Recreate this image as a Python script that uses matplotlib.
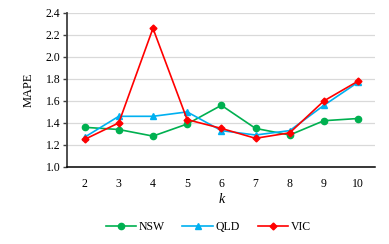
import matplotlib.pyplot as plt
import numpy as np

plt.rcParams['font.family'] = ['Liberation Serif', 'DejaVu Serif']

k = [2, 3, 4, 5, 6, 7, 8, 9, 10]
nsw = [1.36, 1.34, 1.28, 1.39, 1.56, 1.35, 1.29, 1.42, 1.44]
qld = [1.27, 1.46, 1.46, 1.50, 1.33, 1.29, 1.33, 1.56, 1.77]
vic = [1.25, 1.40, 2.26, 1.43, 1.35, 1.26, 1.31, 1.60, 1.78]

fig = plt.figure(figsize=(3.89, 2.44), dpi=100)
ax = fig.add_axes([0.1735, 0.316, 0.791, 0.631])

x = np.arange(len(k))
ax.plot(x, nsw, color="#00B050", marker="o", markersize=4.5, lw=1.2, label="NSW")
ax.plot(x, qld, color="#00B0F0", marker="^", markersize=4.5, lw=1.2, label="QLD")
ax.plot(x, vic, color="#FF0000", marker="D", markersize=3.5, lw=1.2, label="VIC")

ax.set_xlim(-0.5, len(k) - 0.5)
ax.set_ylim(1.0, 2.4)
ax.set_xticks(x)
ax.set_xticklabels([str(v) for v in k])
ax.set_yticks(np.arange(1.0, 2.41, 0.2))
ax.set_yticklabels(["%.1f" % v for v in np.arange(1.0, 2.41, 0.2)])
ax.grid(axis="y", color="#D9D9D9", lw=0.9)
ax.set_axisbelow(True)

for s in ["top", "right"]:
    ax.spines[s].set_visible(False)
ax.spines["left"].set_color("#404040")
ax.spines["left"].set_linewidth(1.3)
ax.spines["bottom"].set_color("black")
ax.spines["bottom"].set_linewidth(1.1)
ax.tick_params(axis="x", length=0, labelsize=8.5, pad=8)
ax.tick_params(axis="y", length=3, width=1, color="#404040", labelsize=8.5, pad=2)

ax.set_ylabel("MAPE", fontsize=9, labelpad=8)
ax.set_xlabel("k", fontsize=10, style="italic", labelpad=2)

fig.legend(loc="center", bbox_to_anchor=(0.535, 0.07), ncol=3, frameon=False,
           fontsize=8.5, handlelength=2.6, columnspacing=1.5, handletextpad=0.2)

plt.savefig("out.png", dpi=100)
